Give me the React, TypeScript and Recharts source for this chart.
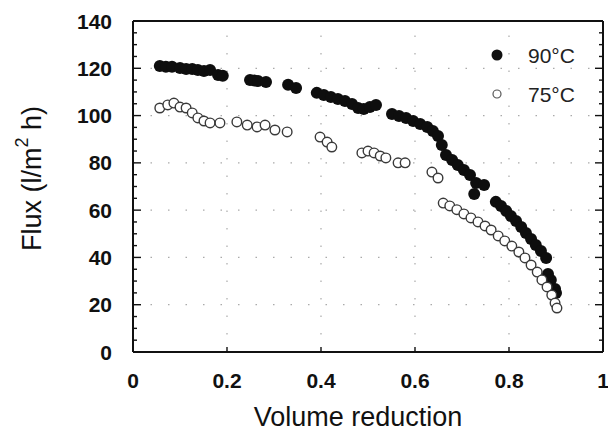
import React from 'react';
import { ScatterChart, Scatter, XAxis, YAxis, ReferenceLine, Legend } from 'recharts';

// ---- data ----
const seriesNames = ['90°C', '75°C'];

const vr90 = [
  0.057, 0.07, 0.083, 0.1, 0.113, 0.126, 0.138, 0.151, 0.164, 0.181, 0.191,
  0.249, 0.258, 0.266, 0.283,
  0.33, 0.347,
  0.391, 0.406, 0.421, 0.436, 0.451, 0.466, 0.479, 0.491, 0.504, 0.517,
  0.551, 0.566, 0.581, 0.596, 0.611, 0.626, 0.638, 0.649,
  0.657, 0.666, 0.679, 0.691, 0.704, 0.717, 0.73, 0.747, 0.726,
  0.772, 0.783, 0.794, 0.804, 0.815, 0.826, 0.836, 0.847, 0.857, 0.868, 0.879,
  0.883, 0.889, 0.898, 0.9,
];
const flux90 = [
  121, 120.6, 120.6, 120.1, 119.7, 119.7, 119.3, 118.9, 119.3, 117.2, 116.8,
  115, 114.8, 114.6, 114.2,
  113, 111.7,
  109.6, 108.7, 107.9, 107, 106.2, 104.9, 103.2, 102.8, 103.6, 104.5,
  100.7, 99.8, 99, 97.7, 96.4, 95.2, 93.5, 91.4,
  87.6, 83.3, 81.2, 79.1, 77, 74.9, 71.5, 70.6, 66.8,
  63.5, 61.8, 59.6, 57.5, 55.4, 52.9, 50.3, 47.8, 45.3, 42.7, 39.8,
  33, 30.5, 26.6, 25,
];

const vr75 = [
  0.057, 0.074, 0.087, 0.1, 0.113, 0.126, 0.138, 0.151, 0.164, 0.185,
  0.221, 0.243, 0.264, 0.281, 0.302, 0.328,
  0.398, 0.413, 0.423,
  0.487, 0.5, 0.513, 0.526, 0.538, 0.564, 0.579,
  0.636, 0.649,
  0.66, 0.674, 0.689, 0.704, 0.719, 0.734, 0.749, 0.762, 0.777, 0.791, 0.806,
  0.821, 0.834, 0.847, 0.86, 0.87, 0.881, 0.891, 0.898, 0.902,
];
const flux75 = [
  103.2, 104.5, 105.3, 103.6, 103.2, 101.1, 99, 97.7, 96.9, 96.9,
  97.3, 96, 95.2, 96, 93.9, 93.1,
  90.9, 88.8, 86.7,
  84.2, 85, 84.2, 82.9, 82.1, 80, 80,
  76.1, 73.6,
  63, 61.8, 60.2, 58.4, 56.7, 55, 53.3, 51.6, 49.1, 47, 44.8,
  42.3, 39.8, 36.8, 33.8, 30.5, 27.5, 24.1, 20.7, 18.6,
];

const xTicks = [0, 0.2, 0.4, 0.6, 0.8, 1];
const xTickLabels = ['0', '0.2', '0.4', '0.6', '0.8', '1'];
const yTicks = [0, 5, 10, 15, 20, 25, 30, 35, 40, 45, 50, 55, 60, 65, 70, 75, 80, 85, 90, 95, 100, 105, 110, 115, 120, 125, 130, 135, 140];
const yMajor = [0, 20, 40, 60, 80, 100, 120, 140];
const gridY = [20, 40, 60, 80, 100, 120];
const gridX = [0.2, 0.4, 0.6, 0.8];

const xLabel = 'Volume reduction';
const yLabelParts = ['Flux (l/m', '2', ' h)'];

const data90 = vr90.map((x, i) => ({ x, y: flux90[i] }));
const data75 = vr75.map((x, i) => ({ x, y: flux75[i] }));

const FONT = '"Liberation Sans", Arial, Helvetica, sans-serif';
const INK = '#111';

const isMajorY = (v: number) => yMajor.indexOf(v) >= 0;

const LeftTick = (props: any) => {
  const { x, y, payload } = props;
  const v = payload.value;
  const major = isMajorY(v);
  return (
    <g>
      <line x1={x} y1={y} x2={x + (major ? 8 : 4)} y2={y} stroke={INK} strokeWidth={1.4} />
      {major && (
        <text x={x - 21} y={y} dy="0.36em" textAnchor="end" fontFamily={FONT} fontWeight="bold" fontSize={21} fill={INK}>
          {v}
        </text>
      )}
    </g>
  );
};

const RightTick = (props: any) => {
  const { x, y, payload } = props;
  const major = isMajorY(payload.value);
  return <line x1={x} y1={y} x2={x - (major ? 8 : 4)} y2={y} stroke={INK} strokeWidth={1.4} />;
};

const BottomTick = (props: any) => {
  const { x, y, payload } = props;
  const lbl = xTickLabels[xTicks.indexOf(payload.value)] ?? String(payload.value);
  return (
    <g>
      <line x1={x} y1={y} x2={x} y2={y - 5} stroke={INK} strokeWidth={1.4} />
      <text x={x} y={y + 28} dy="0.36em" textAnchor="middle" fontFamily={FONT} fontWeight="bold" fontSize={21} fill={INK}>
        {lbl}
      </text>
    </g>
  );
};

const TopTick = (props: any) => {
  const { x, y } = props;
  return <line x1={x} y1={y} x2={x} y2={y + 5} stroke={INK} strokeWidth={1.4} />;
};

const renderYLabel = (props: any) => {
  const vb = props.viewBox || { x: 0, y: 21, width: 133, height: 331 };
  const cx = vb.x + 32;
  const cy = vb.y + vb.height / 2 - 8;
  return (
    <text
      x={cx}
      y={cy}
      transform={`rotate(-90 ${cx} ${cy})`}
      textAnchor="middle"
      dominantBaseline="central"
      fontFamily={FONT}
      fontSize={27}
      fill={INK}
    >
      <tspan>{yLabelParts[0]}</tspan>
      <tspan dy={-10} fontSize={18}>{yLabelParts[1]}</tspan>
      <tspan dy={10}>{yLabelParts[2]}</tspan>
    </text>
  );
};

const renderXLabel = (props: any) => {
  const vb = props.viewBox || { x: 133, y: 352, width: 470, height: 79 };
  return (
    <text x={vb.x + vb.width / 2 - 10} y={vb.y + 74} textAnchor="middle" fontFamily={FONT} fontSize={27} fill={INK}>
      {xLabel}
    </text>
  );
};

const renderLegend = () => (
  <svg width={120} height={80} style={{ display: 'block' }}>
    {seriesNames.map((n: string, i: number) => {
      const cy = 17 + i * 39;
      return (
        <g key={n}>
          {i === 0 ? (
            <circle cx={17} cy={cy} r={5.5} fill={INK} />
          ) : (
            <circle cx={17} cy={cy} r={4} fill="#fff" stroke="#555" strokeWidth={1.2} />
          )}
          <text x={48} y={cy} dy="0.36em" fontFamily={FONT} fontSize={21} fill="#222">
            {n}
          </text>
        </g>
      );
    })}
  </svg>
);

const FilledDot = (p: any) => <circle cx={p.cx} cy={p.cy} r={6} fill="#0e0e0e" />;
const OpenDot = (p: any) => <circle cx={p.cx} cy={p.cy} r={4.8} fill="#fff" stroke="#3a3a3a" strokeWidth={1.4} />;

export default function App() {
  return (
    <div style={{ position: 'absolute', left: 0, top: 0, background: '#fff' }}>
      <ScatterChart width={608} height={431} margin={{ top: 16, right: 0, bottom: 0, left: 0 }}>
        <XAxis
          xAxisId="B"
          type="number"
          dataKey="x"
          domain={[0, 1]}
          allowDataOverflow
          ticks={xTicks}
          interval={0}
          height={79}
          tickSize={0}
          tickMargin={0}
          tickLine={false}
          axisLine={{ stroke: INK, strokeWidth: 2 }}
          tick={BottomTick}
          label={{ content: renderXLabel }}
        />
        <XAxis
          xAxisId="T"
          orientation="top"
          type="number"
          domain={[0, 1]}
          allowDataOverflow
          ticks={xTicks}
          interval={0}
          height={5}
          tickSize={0}
          tickMargin={0}
          tickLine={false}
          axisLine={{ stroke: INK, strokeWidth: 2 }}
          tick={TopTick}
        />
        <YAxis
          yAxisId="L"
          type="number"
          dataKey="y"
          domain={[0, 140]}
          allowDataOverflow
          ticks={yTicks}
          interval={0}
          width={133}
          tickSize={0}
          tickMargin={0}
          tickLine={false}
          axisLine={{ stroke: INK, strokeWidth: 2 }}
          tick={LeftTick}
          label={{ content: renderYLabel }}
        />
        <YAxis
          yAxisId="R"
          orientation="right"
          type="number"
          domain={[0, 140]}
          allowDataOverflow
          ticks={yTicks}
          interval={0}
          width={5}
          tickSize={0}
          tickMargin={0}
          tickLine={false}
          axisLine={{ stroke: INK, strokeWidth: 2 }}
          tick={RightTick}
        />
        {gridY.map((v) => (
          <ReferenceLine key={'gy' + v} xAxisId="B" yAxisId="L" y={v} stroke="#aaaaaa" strokeWidth={1.2} strokeDasharray="1.5 16" />
        ))}
        {gridX.map((v) => (
          <ReferenceLine key={'gx' + v} xAxisId="B" yAxisId="L" x={v} stroke="#aaaaaa" strokeWidth={1.2} strokeDasharray="1.5 16" />
        ))}
        <Legend
          layout="vertical"
          align="center"
          verticalAlign="middle"
          wrapperStyle={{ left: 480, top: 38, width: 120, height: 80 }}
          content={renderLegend}
        />
        <Scatter name={seriesNames[0]} data={data90} xAxisId="B" yAxisId="L" fill={INK} shape={FilledDot} isAnimationActive={false} />
        <Scatter name={seriesNames[1]} data={data75} xAxisId="B" yAxisId="L" fill="#fff" shape={OpenDot} isAnimationActive={false} />
      </ScatterChart>
    </div>
  );
}
